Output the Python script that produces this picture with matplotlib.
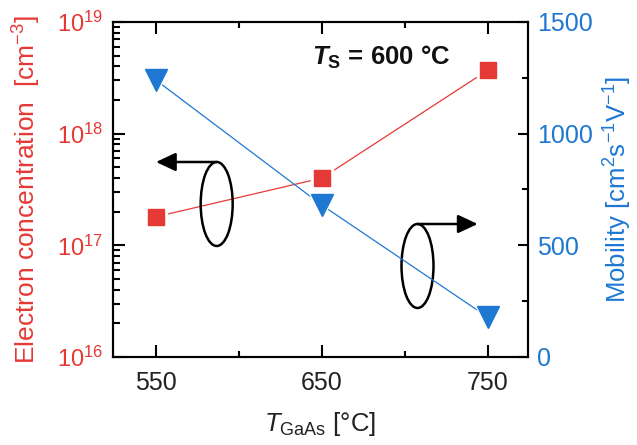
import matplotlib
matplotlib.use("Agg")
import matplotlib.pyplot as plt
from matplotlib.patches import Ellipse
from matplotlib.ticker import LogLocator, MultipleLocator, NullFormatter

plt.rcParams['font.family'] = ['Liberation Sans', 'DejaVu Sans']
plt.rcParams['mathtext.fontset'] = 'custom'
plt.rcParams['mathtext.rm'] = 'Liberation Sans'
plt.rcParams['mathtext.it'] = 'Liberation Sans:italic'
plt.rcParams['mathtext.bf'] = 'Liberation Sans:bold'
plt.rcParams['mathtext.bfit'] = 'Liberation Sans:italic:bold'
plt.rcParams['mathtext.default'] = 'regular'

# ---- data ----
t_gaas = [550, 650, 750]
electron_conc = [1.8e17, 4.0e17, 3.7e18]
mobility = [1240, 680, 178]
x_ticks = [550, 650, 750]
mob_ticks = [0, 500, 1000, 1500]

RED = '#e53935'
BLUE = '#1e78d2'

fig = plt.figure(figsize=(6.37, 4.45), dpi=100)
ax = fig.add_axes([0.1769, 0.1978, 0.6515, 0.7528])
ax2 = ax.twinx()

ax.set_yscale('log')
ax.set_xlim(524, 774)
ax.set_ylim(1e16, 1e19)
ax2.set_ylim(0, 1500)

# lines
ax.plot(t_gaas, electron_conc, color=RED, lw=0.9, zorder=2)
ax2.plot(t_gaas, mobility, color=BLUE, lw=0.9, zorder=2)
# halos (gap between line and marker)
ax.plot(t_gaas, electron_conc, ls='none', marker='s', ms=16, color='white', zorder=3)
ax2.plot(t_gaas, mobility, ls='none', marker='v', ms=20, color='white', zorder=3)
# markers
ax.plot(t_gaas, electron_conc, ls='none', marker='s', ms=12.2, color=RED, zorder=4)
ax2.plot(t_gaas, mobility, ls='none', marker='v', ms=15.5, color=BLUE, zorder=4)

# ticks
ax.set_xticks(x_ticks)
ax.xaxis.set_minor_locator(MultipleLocator(50))
ax.yaxis.set_major_locator(LogLocator(base=10, numticks=10))
ax.yaxis.set_minor_locator(LogLocator(base=10, subs=range(2, 10), numticks=20))
ax.yaxis.set_minor_formatter(NullFormatter())
ax2.set_yticks(mob_ticks)
ax2.yaxis.set_minor_locator(MultipleLocator(250))

ax.tick_params(axis='x', which='both', direction='in', top=True, bottom=True,
               labelsize=18, labelcolor='#222222', pad=10, width=1.5)
ax.tick_params(axis='x', which='major', length=8.5)
ax.tick_params(axis='x', which='minor', length=4.3)
ax.tick_params(axis='y', which='both', direction='in', left=True, right=False,
               labelsize=17, labelcolor=RED, pad=7, width=1.5)
ax.tick_params(axis='y', which='major', length=8.5)
ax.tick_params(axis='y', which='minor', length=4.8)
ax2.tick_params(axis='y', which='both', direction='in', right=True, left=False,
                labelsize=18, labelcolor=BLUE, pad=7, width=1.5)
ax2.tick_params(axis='y', which='major', length=7.5)
ax2.tick_params(axis='y', which='minor', length=4.0)

for a in (ax, ax2):
    for s in a.spines.values():
        s.set_linewidth(1.5)
        s.set_color('black')

ax.set_xlabel(r'$\mathit{T}_{\rm GaAs}$ [°C]', fontsize=18.5, color='#222222', labelpad=11)
ax.set_ylabel(r'Electron concentration  [cm$^{-3}$]', fontsize=19, color=RED, labelpad=10)
ax2.set_ylabel(r'Mobility [cm$^{2}$s$^{-1}$V$^{-1}$]', fontsize=18.5, color=BLUE, labelpad=6)

ax.text(0.48, 0.895, r'$\mathbfit{T}_{\mathbf{S}}$ = 600 °C', transform=ax.transAxes,
        fontsize=18.5, fontweight='bold', ha='left', va='center', color='#111111')

# annotation ellipses and arrows
for cx, cy, tipx in [(0.2506, 0.4567, 0.1043), (0.7345, 0.2716, 0.8795)]:
    e = Ellipse((cx, cy), 0.0771, 0.2507, transform=ax.transAxes, fill=False,
                lw=1.8, ec='black', zorder=5)
    ax.add_patch(e)
    top = cy + 0.2507 / 2
    ax.annotate('', xy=(tipx, top), xytext=(cx, top), xycoords='axes fraction',
                arrowprops=dict(arrowstyle='-|>,head_length=0.6,head_width=0.28',
                                mutation_scale=20, lw=1.8, color='black',
                                shrinkA=0, shrinkB=0), zorder=5)

fig.savefig('out.png', dpi=100)
